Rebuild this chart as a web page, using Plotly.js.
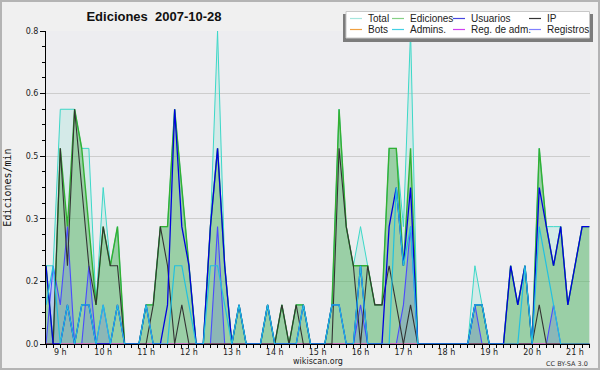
<!DOCTYPE html>
<html><head><meta charset="utf-8">
<script src="https://cdn.plot.ly/plotly-3.0.1.min.js"></script>
<style>
html,body{margin:0;padding:0;background:#f0f0f0;}
#chart{width:596px;height:366px;border:2px solid #b4b4b4;}
</style></head><body><div id="chart"></div>
<script>
const day = '2007-10-28';
const times = ['08:40','08:50','09:00','09:10','09:20','09:30','09:40','09:50',
 '10:00','10:10','10:20','10:30','10:40','10:50',
 '11:00','11:10','11:20','11:30','11:40','11:50',
 '12:00','12:10','12:20','12:30','12:40','12:50',
 '13:00','13:10','13:20','13:30','13:40','13:50',
 '14:00','14:10','14:20','14:30','14:40','14:50',
 '15:00','15:10','15:20','15:30','15:40','15:50',
 '16:00','16:10','16:20','16:30','16:40','16:50',
 '17:00','17:10','17:20','17:30','17:40','17:50',
 '18:00','18:10','18:20','18:30','18:40','18:50',
 '19:00','19:10','19:20','19:30','19:40','19:50',
 '20:00','20:10','20:20','20:30','20:40','20:50',
 '21:00','21:10','21:20'];

const total    = [0.2,0.2,0.6,0.6,0.6,0.5,0.5,0.1,0.4,0.2,0.3, 0,0,0, 0.1,0.1,0.3,0.3,0.6,0.4,0.2, 0,0, 0.3,0.8,0.2, 0, 0.1, 0,0,0, 0.1, 0, 0.1, 0, 0.1,0.1, 0,0,0, 0.1,0.6,0.3,0.2,0.3,0.2,0.1,0.1,0.5,0.5,0.3,0.8, 0,0,0,0,0,0,0,0, 0.2,0.1, 0,0,0, 0.2,0.1,0.2,0, 0.5,0.3,0.3,0.3,0.1,0.2,0.3,0.3];
const ediciones= [0.2,0,0.5,0.3,0.6,0.5,0.3,0.1,0.3,0.2,0.3, 0,0,0, 0.1,0.1,0.3,0.3,0.6,0.4,0.2, 0,0, 0.3,0.5,0.2, 0, 0.1, 0,0,0, 0.1, 0, 0.1, 0, 0.1,0.1, 0,0,0, 0.1,0.6,0.3,0.2,0.2,0.2,0.1,0.1,0.5,0.5,0.2,0.5, 0,0,0,0,0,0,0,0, 0.1,0.1, 0,0,0, 0.2,0.1,0.2,0, 0.5,0.3,0.2,0.3,0.1,0.2,0.3,0.3];
const usuarios = [0.2,0,0,0.1,0,0.1,0.1,0,0,0,0.1, 0,0,0, 0.1,0,0,0.1,0.6,0.3,0.2, 0,0, 0.3,0.5,0.2, 0, 0.1, 0,0,0, 0.1, 0, 0, 0, 0,0.1, 0,0,0, 0.1,0.1,0,0,0.2,0,0,0,0.3,0.4,0.2,0.4, 0,0,0,0,0,0,0,0, 0.1,0.1, 0,0,0, 0.2,0.1,0.2,0, 0.4,0.3,0.2,0.3,0.1,0.2,0.3,0.3];
const ip       = [0,0,0.5,0.2,0.6,0.4,0.2,0.1,0.3,0.2,0.2, 0,0,0, 0,0.1,0.3,0.2,0,0.1,0, 0,0, 0,0,0, 0, 0, 0,0,0, 0, 0, 0.1, 0, 0.1,0, 0,0,0, 0,0.5,0.3,0.2,0,0.2,0.1,0.1,0.2,0.1,0,0.1, 0,0,0,0,0,0,0,0, 0,0, 0,0,0, 0,0,0,0, 0.1,0,0,0,0,0,0,0];
const registros= [0,0.2,0.1,0.3,0,0,0.2,0,0.1,0,0, 0,0,0, 0,0,0,0,0,0,0, 0,0, 0,0.3,0, 0, 0, 0,0,0, 0, 0, 0, 0, 0,0, 0,0,0, 0,0,0,0,0.1,0,0,0,0,0,0.1,0.3, 0,0,0,0,0,0,0,0, 0.1,0, 0,0,0, 0,0,0,0, 0,0,0.1,0,0,0,0,0];
const admins   = [0.1,0.2,0,0.1,0,0.1,0.1,0,0.1,0,0.1, 0,0,0, 0.1,0,0,0,0.2,0.2,0.1, 0,0, 0.2,0.2,0.1, 0, 0.1, 0,0,0, 0.1, 0, 0, 0, 0,0.1, 0,0,0, 0.1,0.1,0,0,0.2,0,0,0,0,0.4,0.2,0.3, 0,0,0,0,0,0,0,0, 0.1,0.1, 0,0,0, 0,0,0.2,0, 0.3,0.2,0.1,0,0,0,0,0];
const bots     = [0,0,0,0,0,0,0,0,0,0,0, 0,0,0, 0,0,0,0,0,0,0, 0,0, 0,0,0, 0, 0, 0,0,0, 0, 0, 0, 0, 0,0, 0,0,0, 0,0,0,0,0,0,0,0,0,0,0,0, 0,0,0,0,0,0,0,0, 0,0, 0,0,0, 0,0,0,0, 0,0,0,0,0,0,0,0];
const regAdm   = [0,0,0,0,0,0,0,0,0,0,0, 0,0,0, 0,0,0,0,0,0,0, 0,0, 0,0,0, 0, 0, 0,0,0, 0, 0, 0, 0, 0,0, 0,0,0, 0,0,0,0,0,0,0,0,0,0,0,0, 0,0,0,0,0,0,0,0, 0,0, 0,0,0, 0,0,0,0, 0,0,0,0,0,0,0,0];

const hourTicks  = ['09:00','10:00','11:00','12:00','13:00','14:00','15:00','16:00','17:00','18:00','19:00','20:00','21:00'];
const hourLabels = ['9 h','10 h','11 h','12 h','13 h','14 h','15 h','16 h','17 h','18 h','19 h','20 h','21 h'];
const yTickVals  = [0,0.16,0.32,0.48,0.64,0.8];
const yTickText  = ['0.0','0.2','0.3','0.5','0.6','0.8'];

const legendNames = ['Total','Ediciones','Usuarios','IP','Bots','Admins.','Reg. de adm.','Registros'];

const X = times.map(t => day + ' ' + t);

const W = 596, H = 366, L = 44, R = 8, T = 29, B = 24;
const pw = W - L - R, ph = H - T - B;
const fx = p => (p - 2 - L) / pw;
const fy = p => (H - B - (p - 2)) / ph;

const line = (name, y, color, width, fill, fillcolor) => {
  const tr = {type:'scatter', mode:'lines', name, x:X, y, line:{color, width}, showlegend:false, hoverinfo:'skip'};
  if (fill) { tr.fill = 'tozeroy'; tr.fillcolor = fillcolor; }
  return tr;
};

const traces = [
  line('Total', total, '#3cd8c8', 1, true, 'rgba(100,220,200,0.18)'),
  line('Ediciones', ediciones, '#33b033', 1.4, true, 'rgba(75,170,75,0.42)'),
  line('Registros', registros, '#4a4aff', 1.1, true, 'rgba(80,80,255,0.18)'),
  line('Bots', bots, '#f0a040', 1),
  line('Reg. de adm.', regAdm, '#d040f0', 1),
  line('IP', ip, '#333333', 1.1),
  line('Usuarios', usuarios, '#0000e0', 1.3),
  line('Admins.', admins, '#22c0e0', 1.2)
];

// manual legend layout (4 columns x 2 rows)
const legendColors = ['#a6e6de','#86d086','#4646e0','#333333','#f0a040','#44d0e4','#d040f0','#8080ff'];
const colLine = [350,392,453,529];
const colText = [366,408,469,545];
const rowY = [18.5,29.5];
const shapes = [
  {type:'rect', xref:'paper', yref:'paper', x0:fx(343), x1:fx(593), y0:fy(42), y1:fy(14), fillcolor:'#7c7c7c', line:{width:0}},
  {type:'rect', xref:'paper', yref:'paper', x0:fx(346), x1:fx(589.5), y0:fy(38), y1:fy(11.5), fillcolor:'#ffffff', line:{color:'#c8c8c8', width:1}}
];
const annotations = [];
legendNames.forEach((n, i) => {
  const c = i % 4, r = Math.floor(i / 4);
  shapes.push({type:'line', xref:'paper', yref:'paper', x0:fx(colLine[c]), x1:fx(colLine[c]+12), y0:fy(rowY[r]), y1:fy(rowY[r]), line:{color:legendColors[i], width:1.2}});
  annotations.push({xref:'paper', yref:'paper', x:fx(colText[c]), y:fy(rowY[r]), xanchor:'left', yanchor:'middle', showarrow:false, text:n, font:{family:'Liberation Sans', size:10, color:'#222'}});
});
annotations.push({xref:'paper', yref:'paper', x:fx(590), y:fy(364), xanchor:'right', yanchor:'middle', showarrow:false, text:'CC BY-SA 3.0', font:{family:'DejaVu Sans', size:6.5, color:'#333'}});

const layout = {
  width: W, height: H,
  margin: {l:L, r:R, t:T, b:B, pad:0},
  paper_bgcolor: '#f0f0f0',
  plot_bgcolor: '#ededf0',
  showlegend: false,
  title: {text:'Ediciones\u00a0 2007-10-28', font:{family:'Liberation Sans', size:13, color:'#111', weight:'bold'},
          x: fx(154), xref:'paper', xanchor:'center', y: 1 - (16.5 - 2) / H, yref:'container', yanchor:'middle'},
  xaxis: {
    type:'date', range:[day + ' 08:40', day + ' 21:21'],
    tickvals: hourTicks.map(t => day + ' ' + t), ticktext: hourLabels,
    ticks:'outside', ticklen:3, tickcolor:'#000', tickwidth:1, ticklabelstandoff:-3,
    minor:{dtick:600000, tick0: day + ' 08:40', ticks:'outside', ticklen:3, tickcolor:'#000', showgrid:false},
    showline:true, linecolor:'#000', linewidth:1, showgrid:false, zeroline:false,
    tickfont:{family:'DejaVu Sans', size:8, color:'#222'},
    title:{text:'wikiscan.org', font:{family:'DejaVu Sans', size:8, color:'#222'}, standoff:2}
  },
  yaxis: {
    range:[0,0.8], tickvals:yTickVals, ticktext:yTickText,
    ticks:'outside', ticklen:5, tickcolor:'#000', tickwidth:1,
    minor:{dtick:0.04, tick0:0, ticks:'outside', ticklen:3, tickcolor:'#000', showgrid:false},
    showline:true, linecolor:'#000', linewidth:1, showgrid:true, gridcolor:'#cdcdcd', gridwidth:1, zeroline:false,
    tickfont:{family:'DejaVu Sans', size:8, color:'#222'},
    title:{text:'Ediciones/min', font:{family:'DejaVu Sans Mono', size:10, color:'#111'}, standoff:12}
  },
  shapes, annotations
};

Plotly.newPlot('chart', traces, layout, {displayModeBar:false, staticPlot:true});
</script></body></html>
